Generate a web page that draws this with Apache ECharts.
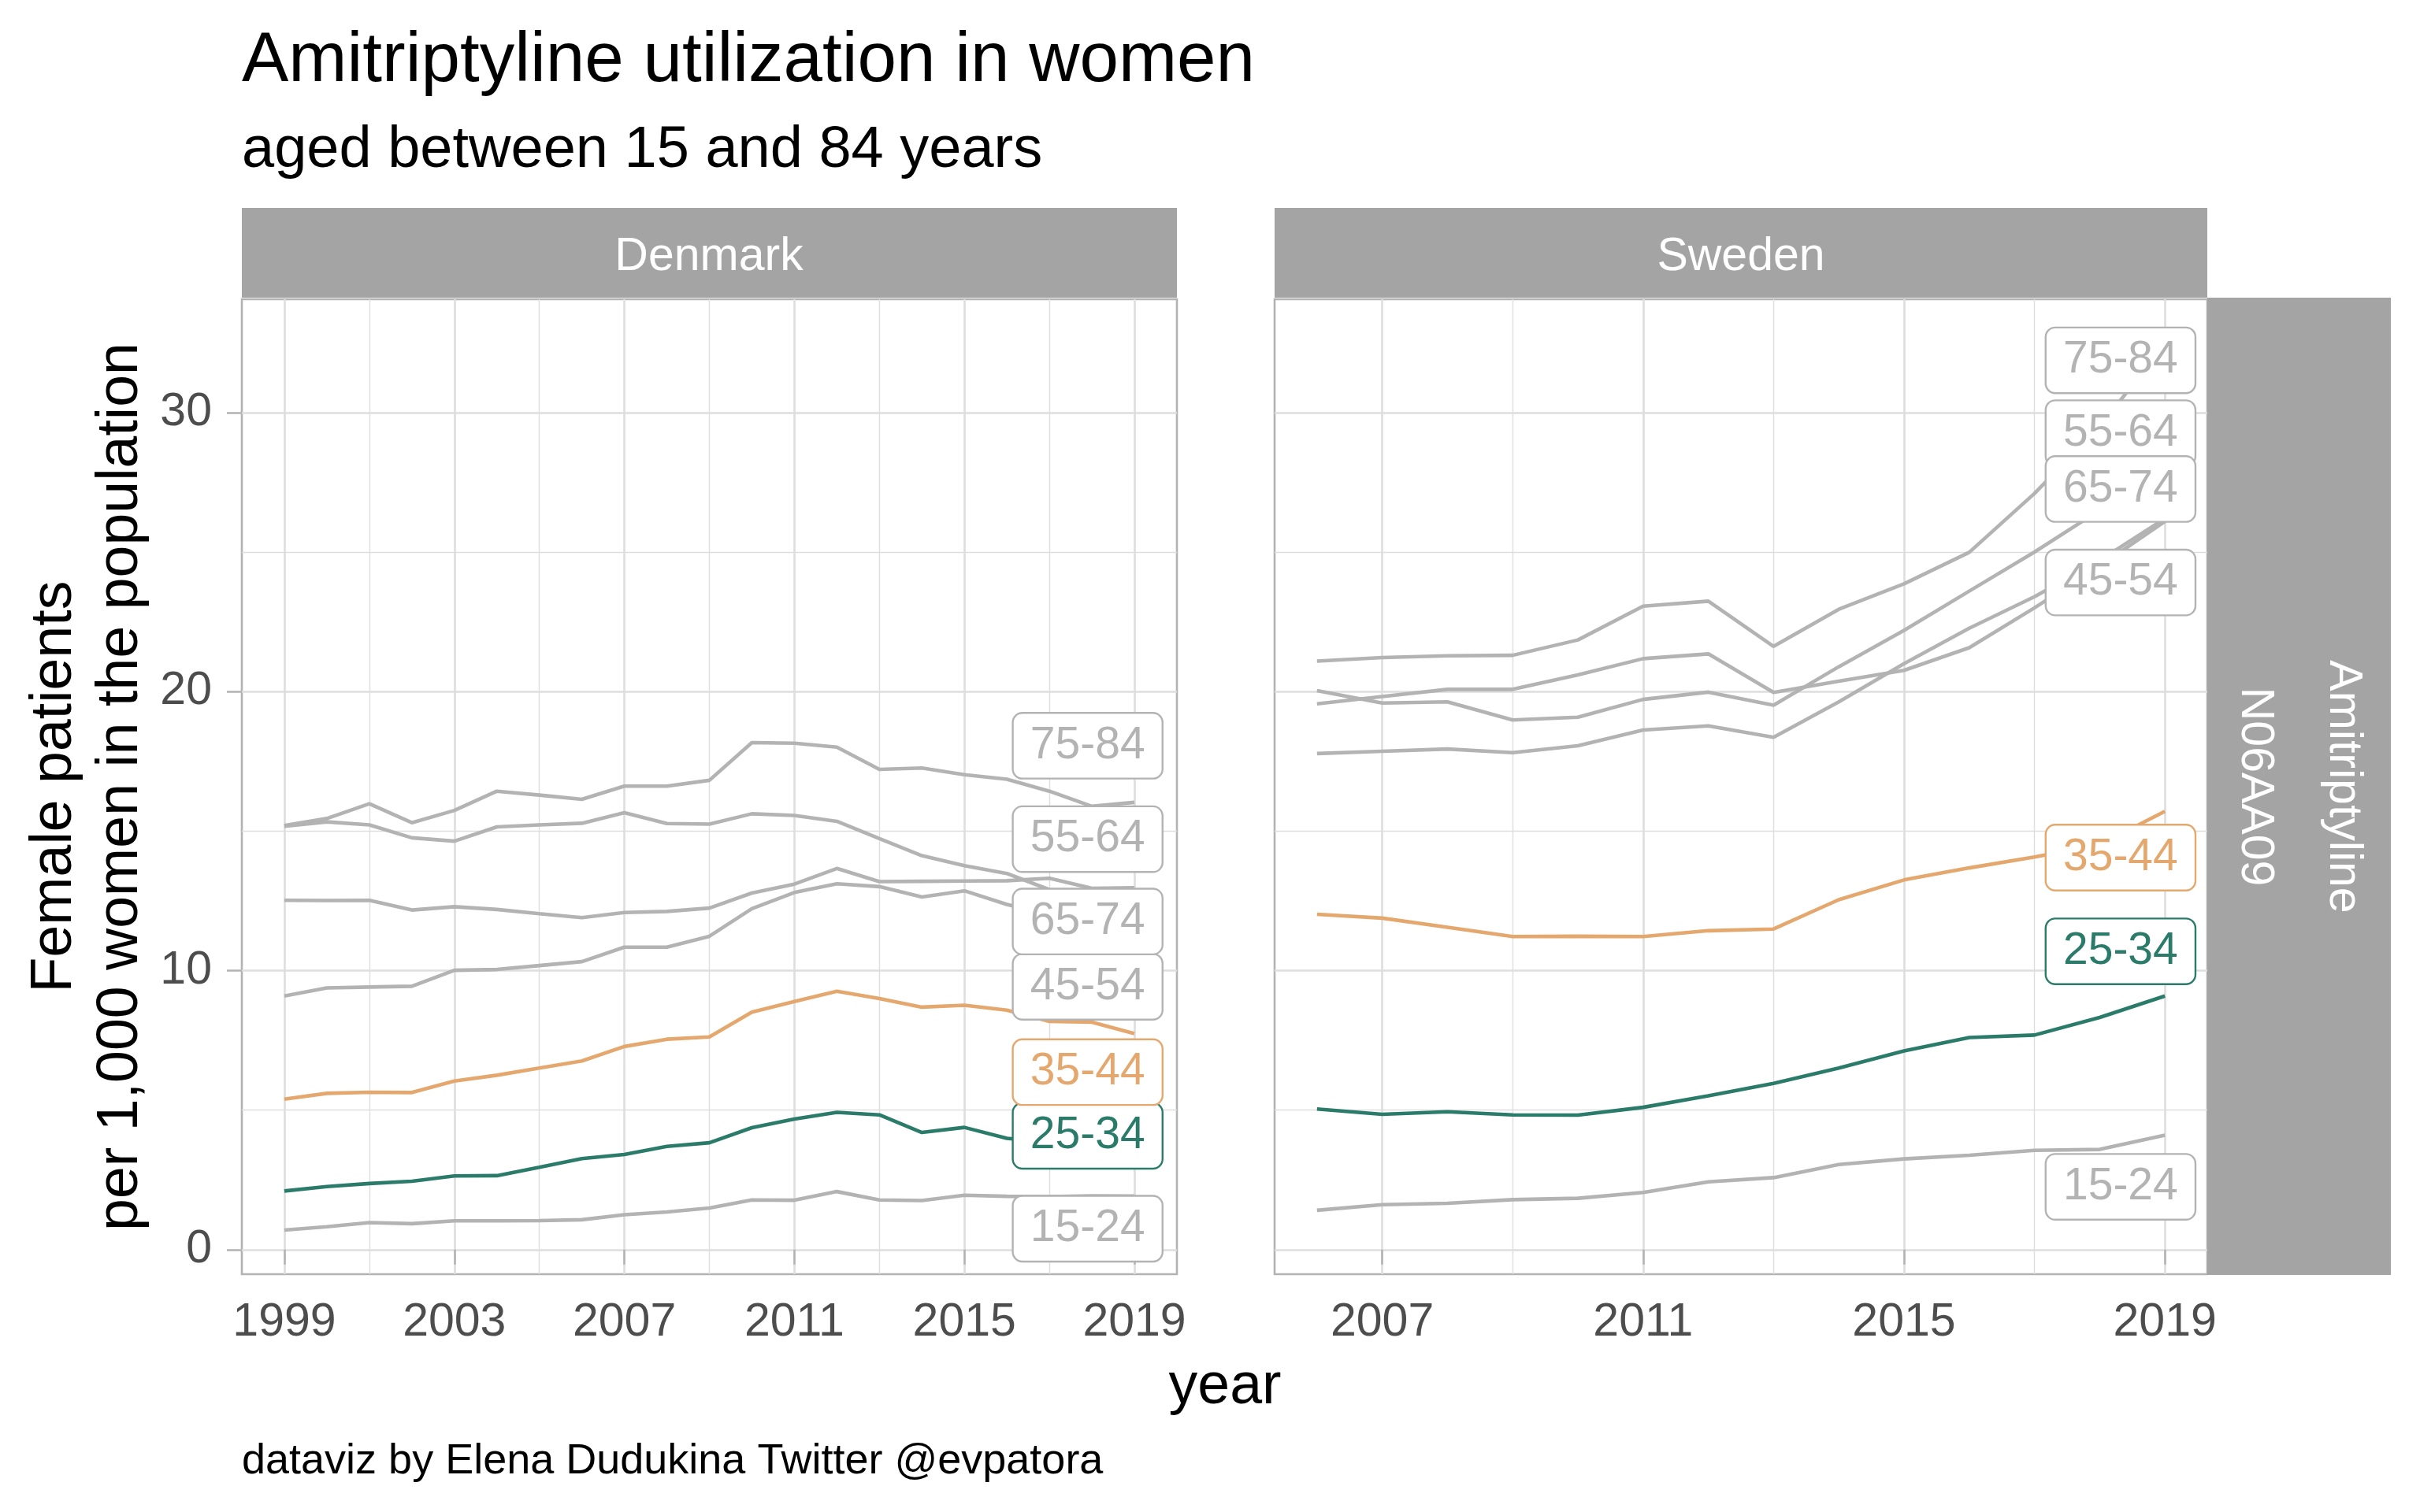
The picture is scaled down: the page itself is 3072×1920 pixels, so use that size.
<!DOCTYPE html>
<html>
<head>
<meta charset="utf-8">
<script src="https://cdn.jsdelivr.net/npm/echarts@6/dist/echarts.min.js"></script>
<style>
html,body{margin:0;padding:0;background:#fff;}
#chart{width:3072px;height:1920px;}
</style>
</head>
<body>
<div id="chart"></div>
<script>
// ---------------- data ----------------
const ageGroups = ['15-24', '25-34', '35-44', '45-54', '55-64', '65-74', '75-84'];

const yearsDenmark = [1999,2000,2001,2002,2003,2004,2005,2006,2007,2008,2009,2010,2011,2012,2013,2014,2015,2016,2017,2018,2019];
const dk15_24 = [0.70,0.82,0.97,0.93,1.03,1.03,1.04,1.07,1.25,1.35,1.49,1.78,1.77,2.08,1.78,1.76,1.95,1.91,1.90,1.93,1.92];
const dk25_34 = [2.10,2.26,2.37,2.45,2.64,2.65,2.95,3.26,3.41,3.70,3.83,4.37,4.68,4.92,4.83,4.20,4.38,3.99,3.85,3.90,3.95];
const dk35_44 = [5.39,5.60,5.64,5.63,6.04,6.25,6.51,6.76,7.28,7.54,7.62,8.51,8.89,9.26,9.00,8.69,8.76,8.58,8.18,8.15,7.74];
const dk45_54 = [9.09,9.38,9.41,9.44,10.01,10.04,10.18,10.32,10.84,10.84,11.23,12.22,12.80,13.11,13.01,12.64,12.86,12.37,12.00,11.80,11.60];
const dk55_64 = [15.17,15.33,15.22,14.76,14.64,15.15,15.22,15.28,15.66,15.27,15.25,15.62,15.56,15.35,14.73,14.12,13.76,13.48,12.90,12.60,12.40];
const dk65_74 = [12.52,12.51,12.52,12.17,12.29,12.19,12.04,11.90,12.08,12.12,12.24,12.78,13.10,13.66,13.19,13.20,13.21,13.22,13.31,12.95,12.97];
const dk75_84 = [15.20,15.45,15.98,15.30,15.74,16.43,16.29,16.14,16.61,16.61,16.82,18.17,18.15,18.01,17.21,17.26,17.02,16.86,16.43,15.89,16.03];

const yearsSweden = [2006,2007,2008,2009,2010,2011,2012,2013,2014,2015,2016,2017,2018,2019];
const se15_24 = [1.41,1.61,1.66,1.79,1.84,2.05,2.43,2.58,3.05,3.25,3.38,3.56,3.59,4.10];
const se25_34 = [5.04,4.85,4.94,4.83,4.82,5.10,5.51,5.96,6.51,7.12,7.60,7.69,8.32,9.09];
const se35_44 = [12.02,11.88,11.55,11.22,11.23,11.22,11.43,11.49,12.54,13.25,13.68,14.07,14.51,15.71];
const se45_54 = [17.78,17.86,17.94,17.81,18.06,18.62,18.77,18.36,19.63,21.00,22.27,23.40,24.70,26.20];
const se55_64 = [20.03,19.59,19.63,18.98,19.08,19.72,19.98,19.51,20.89,22.19,23.60,25.00,26.50,28.00];
const se65_74 = [19.56,19.82,20.08,20.08,20.60,21.18,21.35,19.97,20.37,20.76,21.57,23.00,24.50,26.10];
const se75_84 = [21.09,21.22,21.28,21.30,21.85,23.06,23.24,21.62,22.95,23.86,24.99,27.10,29.50,32.45];

// tick labels
const yTicks = [0, 10, 20, 30];
const yMinorTicks = [5, 15, 25];
const dkXTicks = [1999, 2003, 2007, 2011, 2015, 2019];
const dkXMinorTicks = [2001, 2005, 2009, 2013, 2017];
const seXTicks = [2007, 2011, 2015, 2019];
const seXMinorTicks = [2009, 2013, 2017];

// repelled label anchors (data space) for the end labels
const dkLabelYear = 2017.9;
const dkLabelValue = [0.75, 4.08, 6.36, 9.42, 14.71, 11.76, 18.06];
const seLabelYear = 2018.32;
const seLabelValue = [2.25, 10.69, 14.05, 23.91, 29.26, 27.26, 31.87];

// ---------------- styling ----------------
const FONT = '"Liberation Sans", Arial, Helvetica, sans-serif';
const GREY = '#B3B3B3';
const groupColors = [GREY, '#2B7B6B', '#E4A86E', GREY, GREY, GREY, GREY];
const GRID_MAJOR = '#DEDEDE';

const dkSeriesValues = [dk15_24, dk25_34, dk35_44, dk45_54, dk55_64, dk65_74, dk75_84];
const seSeriesValues = [se15_24, se25_34, se35_44, se45_54, se55_64, se65_74, se75_84];

function pairs(years, vals) { return years.map((y, i) => [y, vals[i]]); }

const series = [];
const drawOrder = [0, 3, 4, 5, 6, 2, 1];
function addPanel(years, valuesList, xIdx, yIdx) {
  drawOrder.forEach(gi => {
    series.push({
      type: 'line', name: ageGroups[gi], xAxisIndex: xIdx, yAxisIndex: yIdx,
      data: pairs(years, valuesList[gi]), symbol: 'none', silent: true,
      lineStyle: { color: groupColors[gi], width: 4.6, opacity: 1 },
      z: gi === 1 || gi === 2 ? 4 : 3
    });
  });
}
addPanel(yearsDenmark, dkSeriesValues, 0, 0);
addPanel(yearsSweden, seSeriesValues, 2, 2);

function labelSeries(xIdx, yIdx, year, values) {
  return {
    type: 'scatter', xAxisIndex: xIdx, yAxisIndex: yIdx, symbolSize: 1, silent: true, z: 10,
    itemStyle: { color: 'rgba(0,0,0,0)', opacity: 1 },
    emphasis: { disabled: true },
    label: {
      show: true, position: 'inside', formatter: '{b}', opacity: 1,
      fontSize: 57, fontFamily: FONT, lineHeight: 57,
      backgroundColor: '#FFFFFF', borderWidth: 2.4, borderRadius: 11, padding: [12, 21, 12, 21]
    },
    data: ageGroups.map((g, i) => ({
      name: g, value: [year, values[i]],
      label: { color: groupColors[i], borderColor: groupColors[i] }
    }))
  };
}
series.push(labelSeries(0, 0, dkLabelYear, dkLabelValue));
series.push(labelSeries(2, 2, seLabelYear, seLabelValue));

function xMajor(gridIndex, min, max, ticks) {
  return {
    type: 'value', gridIndex, min, max, position: 'bottom',
    axisLine: { show: false },
    axisTick: { show: true, customValues: ticks, length: 19, lineStyle: { color: GREY, width: 2.5 } },
    axisLabel: { show: true, customValues: ticks, fontSize: 59, fontFamily: FONT, color: '#4D4D4D', margin: 32, lineHeight: 59, formatter: v => String(v) },
    splitLine: { show: true, lineStyle: { color: GRID_MAJOR, width: 2.6 } }
  };
}
function xMinor(gridIndex, min, max, ticks) {
  return {
    type: 'value', gridIndex, min, max, position: 'top',
    axisLine: { show: false },
    axisTick: { show: false, customValues: ticks },
    axisLabel: { show: false, customValues: ticks },
    splitLine: { show: true, lineStyle: { color: GRID_MAJOR, width: 1.4 } }
  };
}
function yMajor(gridIndex, showLabels) {
  return {
    type: 'value', gridIndex, min: -0.88, max: 34.06, position: 'left',
    axisLine: { show: false },
    axisTick: { show: showLabels, customValues: yTicks, length: 19, lineStyle: { color: GREY, width: 2.5 } },
    axisLabel: { show: showLabels, customValues: yTicks, fontSize: 59, fontFamily: FONT, color: '#4D4D4D', margin: 38, formatter: v => String(v) },
    splitLine: { show: true, lineStyle: { color: GRID_MAJOR, width: 2.6 } }
  };
}
function yMinor(gridIndex) {
  return {
    type: 'value', gridIndex, min: -0.88, max: 34.06, position: 'right',
    axisLine: { show: false },
    axisTick: { show: false, customValues: yMinorTicks },
    axisLabel: { show: false, customValues: yMinorTicks },
    splitLine: { show: true, lineStyle: { color: GRID_MAJOR, width: 1.4 } }
  };
}

function txt(text, x, y, size, opts) {
  opts = opts || {};
  const al = opts.align || 'left';
  return {
    type: 'text', x, y, rotation: opts.rotation || 0, silent: true, z: 100,
    style: {
      text, fontSize: size, fontFamily: FONT, fill: opts.color || '#000000',
      align: al, textAlign: al, verticalAlign: 'middle', textVerticalAlign: 'middle',
      lineHeight: opts.lineHeight || size
    }
  };
}
function rect(x, y, w, h, fill) {
  return { type: 'rect', silent: true, z: 50, shape: { x, y, width: w, height: h }, style: { fill } };
}
const STRIP = '#A4A4A4';

const option = {
  animation: false,
  backgroundColor: '#FFFFFF',
  grid: [
    { left: 307, top: 380, width: 1187, height: 1238, show: true, borderColor: GREY, borderWidth: 2.6, backgroundColor: 'rgba(0,0,0,0)' },
    { left: 1618, top: 380, width: 1184, height: 1238, show: true, borderColor: GREY, borderWidth: 2.6, backgroundColor: 'rgba(0,0,0,0)' }
  ],
  xAxis: [
    xMajor(0, 1998, 2020, dkXTicks),
    xMinor(0, 1998, 2020, dkXMinorTicks),
    xMajor(1, 2005.35, 2019.65, seXTicks),
    xMinor(1, 2005.35, 2019.65, seXMinorTicks)
  ],
  yAxis: [ yMajor(0, true), yMinor(0), yMajor(1, false), yMinor(1) ],
  series,
  graphic: [
    rect(307, 264, 1187, 114, STRIP),
    rect(1618, 264, 1184, 114, STRIP),
    rect(2802, 378, 116, 1241, STRIP),
    rect(2918, 378, 117, 1241, STRIP),
    txt('Amitriptyline utilization in women', 307, 78, 89),
    txt('aged between 15 and 84 years', 307, 192, 74),
    txt('Denmark', 900, 327, 59, { align: 'center', color: '#FFFFFF' }),
    txt('Sweden', 2210, 327, 59, { align: 'center', color: '#FFFFFF' }),
    txt('N06AA09', 2862, 999, 59, { align: 'center', color: '#FFFFFF', rotation: -Math.PI / 2 }),
    txt('Amitriptyline', 2974, 999, 59, { align: 'center', color: '#FFFFFF', rotation: -Math.PI / 2 }),
    txt('year', 1555, 1762, 73.5, { align: 'center' }),
    txt('Female patients\nper 1,000 women in the population', 112, 999, 73.5, { align: 'center', rotation: Math.PI / 2, lineHeight: 84 }),
    txt('dataviz by Elena Dudukina Twitter @evpatora', 307, 1856, 54)
  ]
};

const chart = echarts.init(document.getElementById('chart'), null, { renderer: 'canvas', width: 3072, height: 1920 });
chart.setOption(option);
</script>
</body>
</html>
